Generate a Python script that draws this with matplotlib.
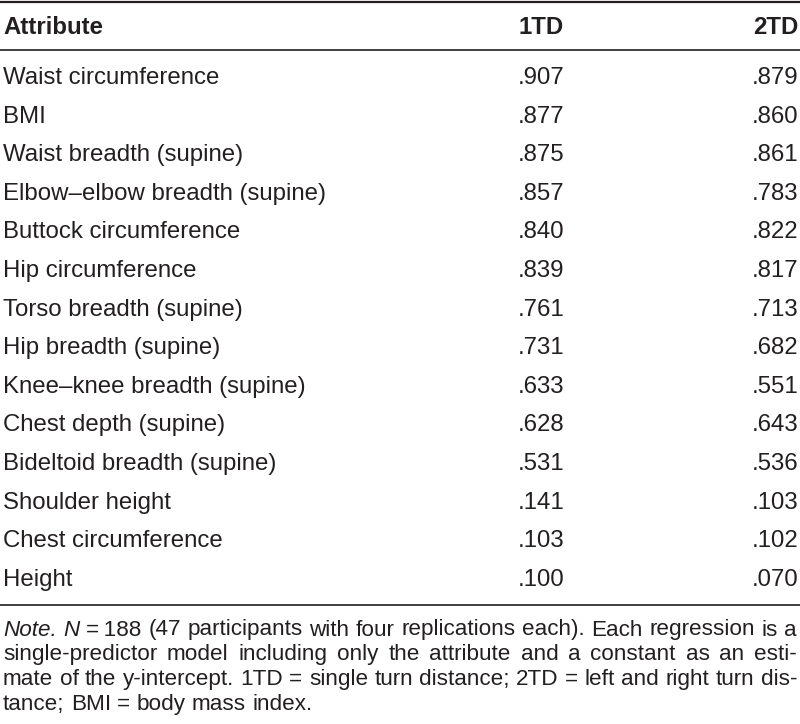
import matplotlib
matplotlib.use("Agg")
import matplotlib.pyplot as plt

# table contents
attributes = [
    "Waist circumference", "BMI", "Waist breadth (supine)",
    "Elbow\u2013elbow breadth (supine)", "Buttock circumference",
    "Hip circumference", "Torso breadth (supine)", "Hip breadth (supine)",
    "Knee\u2013knee breadth (supine)", "Chest depth (supine)",
    "Bideltoid breadth (supine)", "Shoulder height", "Chest circumference",
    "Height",
]
td1 = [".907", ".877", ".875", ".857", ".840", ".839", ".761", ".731",
       ".633", ".628", ".531", ".141", ".103", ".100"]
td2 = [".879", ".860", ".861", ".783", ".822", ".817", ".713", ".682",
       ".551", ".643", ".536", ".103", ".102", ".070"]
headers = ["Attribute", "1TD", "2TD"]

# note lines: list of (word, italic) per line, justified except the last
note_lines = [
    [("Note.", True), ("N", True), ("=\u2009188", False), ("(47", False), ("participants", False),
     ("with", False), ("four", False), ("replications", False), ("each).", False),
     ("Each", False), ("regression", False), ("is", False), ("a", False)],
    [(w, False) for w in "single-predictor model including only the attribute and a constant as an esti-".split()],
    [(w, False) for w in "mate of the y-intercept. 1TD\u2009=\u2009single turn distance; 2TD\u2009=\u2009left and right turn dis-".split()],
    [(w, False) for w in "tance; BMI = body mass index.".split()],
]

FONT = ["Liberation Sans", "DejaVu Sans"]
INK = "#231f20"
fs = 17.3
note_fs = 16.2

fig = plt.figure(figsize=(8, 7.24), dpi=100)
ax = fig.add_axes([0, 0, 1, 1])
ax.set_xlim(0, 800)
ax.set_ylim(724, 0)
ax.axis("off")

x_left, x_c1, x_c2 = 3, 564, 798

# rules
for y, lw in [(2, 1.6), (50, 1.2), (605, 1.2)]:
    ax.plot([0, 800], [y, y], color=INK, lw=lw, solid_capstyle="butt")

# header
hy = 28
ax.text(x_left, hy, headers[0], ha="left", va="center", fontsize=fs,
        fontweight="bold", family=FONT, color=INK)
ax.text(x_c1, hy, headers[1], ha="right", va="center", fontsize=fs,
        fontweight="bold", family=FONT, color=INK)
ax.text(x_c2, hy, headers[2], ha="right", va="center", fontsize=fs,
        fontweight="bold", family=FONT, color=INK)

# body rows
y0, dy = 78, 38.6
for i, (name, a, b) in enumerate(zip(attributes, td1, td2)):
    y = y0 + i * dy
    ax.text(x_left, y, name, ha="left", va="center", fontsize=fs, family=FONT, color=INK)
    ax.text(x_c1, y, a, ha="right", va="center", fontsize=fs, family=FONT, color=INK)
    ax.text(x_c2, y, b, ha="right", va="center", fontsize=fs, family=FONT, color=INK)

# justified note
renderer = fig.canvas.get_renderer()
sp = ax.text(0, 0, "a a", fontsize=note_fs, family=FONT)
sp2 = ax.text(0, 0, "aa", fontsize=note_fs, family=FONT)
space_w = sp.get_window_extent(renderer).width - sp2.get_window_extent(renderer).width
sp.remove()
sp2.remove()

ny0, ndy = 630, 24.7
right_edge = 797
for li, words in enumerate(note_lines):
    y = ny0 + li * ndy
    arts = []
    for w, it in words:
        t = ax.text(0, y, w, ha="left", va="center", fontsize=note_fs, family=FONT,
                    style="italic" if it else "normal", color=INK)
        arts.append(t)
    widths = [t.get_window_extent(renderer).width for t in arts]
    if li < len(note_lines) - 1:
        gap = (right_edge - x_left - sum(widths)) / (len(arts) - 1)
    else:
        gap = space_w
    x = x_left
    for t, w in zip(arts, widths):
        t.set_x(x)
        x += w + gap

fig.savefig("out.png", dpi=100, facecolor="white")
